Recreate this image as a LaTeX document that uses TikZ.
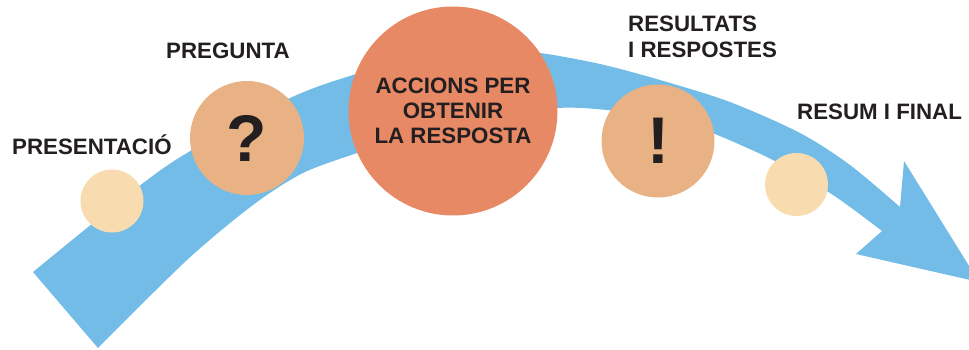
\documentclass[tikz,border=0pt]{standalone}
\usepackage{fontspec}
\setmainfont{Liberation Sans}
\usetikzlibrary{positioning}
\definecolor{mband}{HTML}{72BCE7}
\definecolor{mpale}{HTML}{F8DCB0}
\definecolor{mtan}{HTML}{E9B285}
\definecolor{mcoral}{HTML}{E88966}
\definecolor{mink}{HTML}{231F20}
\tikzstyle{dot} = [circle, inner sep=0pt, minimum size=63pt, fill=mpale]
\tikzstyle{bubble} = [circle, inner sep=0pt, minimum size=114pt, fill=mtan, text=mink, font=\fontsize{66}{66}\selectfont\bfseries]
\tikzstyle{core} = [circle, inner sep=0pt, minimum size=209pt, fill=mcoral, text=mink, align=center, font=\fontsize{22.3}{25}\selectfont\bfseries]
\tikzstyle{heading} = [inner sep=0pt, text=mink, align=left, font=\fontsize{22.3}{26}\selectfont\bfseries]

\begin{document}
\begin{tikzpicture}[x=1pt, y=-1pt]
  \useasboundingbox (0,0) rectangle (969,349);
  \fill [mband] plot[smooth] coordinates {(33,272) (138,187) (192,150) (290,98) (353,75) (420,58) (490,50) (540,53) (600,64) (660,80) (730,102) (800,133) (850,165) (900,207)}
    -- (904,161) -- (979,282) -- (856,254) -- (882,231)
    -- plot[smooth] coordinates {(882,231) (833,195) (773,160) (700,128) (660,118) (607,110) (557,108) (480,118) (420,132) (360,152) (303,173) (253,205) (187,260) (98,348)}
    -- cycle;
  \node (dot1) [dot] at (112,201) {};
  \node (ask) [bubble] at (247,138) {?};
  \node (act) [core] at (453,111) {ACCIONS PER\\OBTENIR\\LA RESPOSTA};
  \node (ans) [bubble, minimum size=113pt] at (658,141) {!};
  \node (dot2) [dot] at (796.5,184.5) {};
  \node (lpres) [heading, anchor=base west] at (12,154) {PRESENTACIÓ};
  \node (lask) [heading, anchor=base west] at (166,58) {PREGUNTA};
  \node (lans) [heading, anchor=north west] at (628,16) {RESULTATS\\I RESPOSTES};
  \node (lend) [heading, anchor=base west] at (797,119) {RESUM I FINAL};
\end{tikzpicture}
\end{document}
